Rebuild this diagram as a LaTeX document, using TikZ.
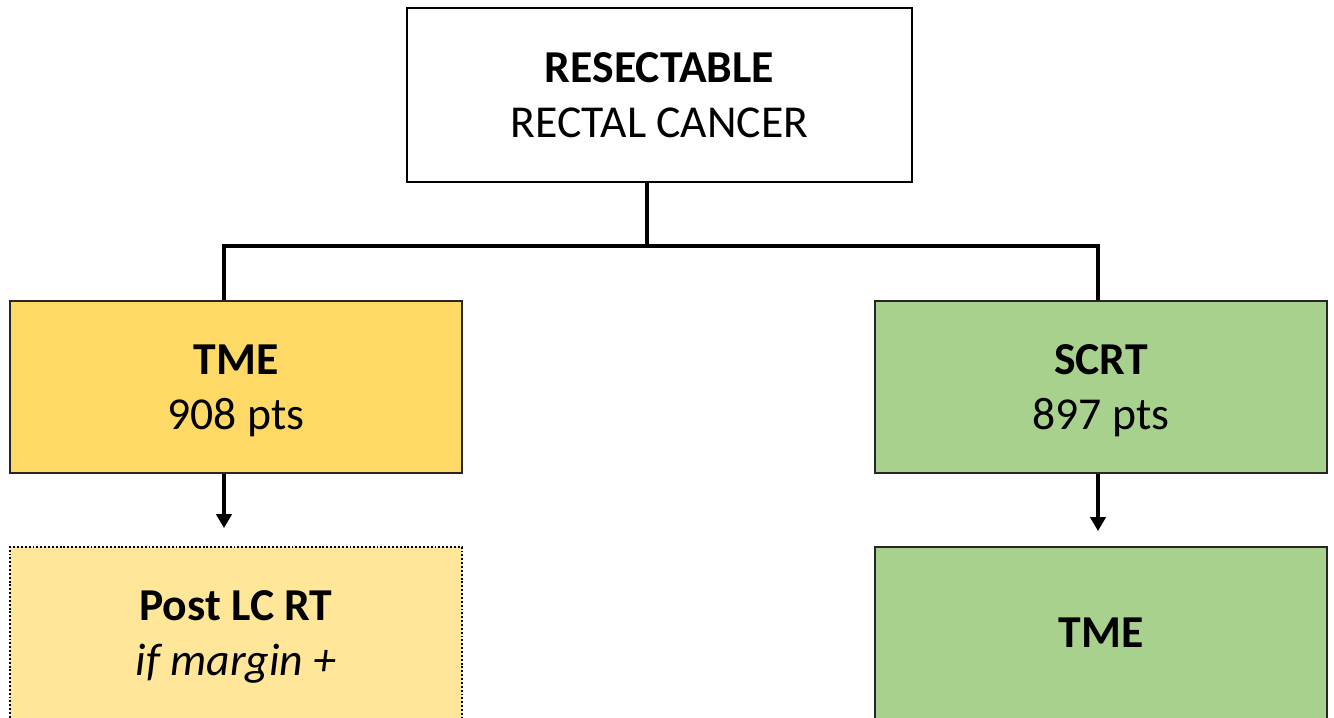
\documentclass[tikz,border=0pt]{standalone}
\usepackage{fontspec}
\setmainfont{Carlito}
\usetikzlibrary{arrows.meta}

\definecolor{tmegold}{HTML}{FFD966}
\definecolor{postgold}{HTML}{FFE699}
\definecolor{scrtgreen}{HTML}{A9D18E}

\begin{document}
\begin{tikzpicture}[x=0.02cm,y=-0.02cm,
                every path/.style={>={Triangle[length=0.28cm,width=0.3cm]}},
                box/.style={draw,line width=1pt,align=center,text depth=0pt,font=\fontsize{26}{31}\selectfont},
                link/.style={line width=2pt}]
  \clip (0,0) rectangle (1334,717);
  \fill[white] (0,0) rectangle (1334,717);
  \node[box,fill=white,minimum width=10.1cm,minimum height=3.48cm] (top) at (659.5,95) {\textbf{RESECTABLE}\\RECTAL CANCER};
  \node[box,fill=tmegold,draw=black!85,minimum width=9.04cm,minimum height=3.44cm] (tme) at (236,387) {\textbf{TME}\\908 pts};
  \node[box,fill=scrtgreen,draw=black!85,minimum width=9.04cm,minimum height=3.44cm] (scrt) at (1101,387) {\textbf{SCRT}\\897 pts};
  \node[box,fill=postgold,line width=0.9pt,dash pattern=on 1.1pt off 1.1pt,minimum width=9.04cm,minimum height=3.44cm] (post) at (236,633) {\textbf{Post LC RT}\\\textit{if margin +}};
  \node[box,fill=scrtgreen,draw=black!85,minimum width=9.04cm,minimum height=3.44cm] (surg) at (1101,633) {\textbf{TME}};
  \coordinate (split) at (647,246);
  \coordinate (lbranch) at (224,246);
  \coordinate (rbranch) at (1098,246);
  \draw[link] (split |- top.south) -- (split);
  \draw[link] (lbranch |- tme.north) -- (lbranch) -- (rbranch) -- (rbranch |- scrt.north);
  \draw[link,->,shorten >=0.36cm] (lbranch |- tme.south) -- (lbranch |- post.north);
  \draw[link,->,shorten >=0.3cm] (rbranch |- scrt.south) -- (rbranch |- surg.north);
\end{tikzpicture}
\end{document}
